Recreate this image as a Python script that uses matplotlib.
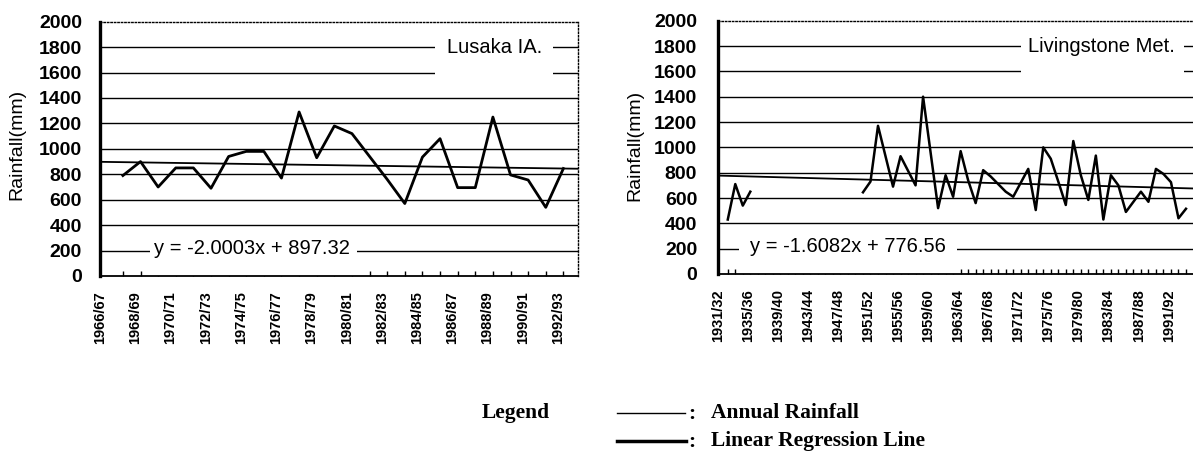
import numpy as np
import matplotlib
matplotlib.use('Agg')  # no window, just write the png
import matplotlib.pyplot as plt
from matplotlib.patches import Rectangle
from matplotlib.lines import Line2D

# Lusaka I.A. annual rainfall (mm), one value per season from 1966/67
lusaka_rain = [790, 900, 700, 850, 850, 690, 940, 980, 980, 770,
               1290, 930, 1180, 1120, 940, 760, 570, 935, 1080, 695,
               695, 1250, 795, 755, 540, 845]
lusaka_trend = (-2.0003, 897.32)
lusaka_labels = ['1966/67', '1968/69', '1970/71', '1972/73', '1974/75',
                 '1976/77', '1978/79', '1980/81', '1982/83', '1984/85',
                 '1986/87', '1988/89', '1990/91', '1992/93']

# Livingstone Met. annual rainfall (mm): 1931/32-1934/35, then 1949/50-1992/93
livingstone_rain_early = [430, 710, 540, 650]
livingstone_rain_late = [645, 730, 1170, 930, 690, 930, 815, 700, 1400, 960,
                         520, 780, 610, 970, 740, 560, 820, 770, 710, 650,
                         610, 720, 830, 505, 1000, 910, 730, 545, 1050, 780,
                         585, 935, 430, 780, 700, 490, 570, 650, 570, 830,
                         790, 725, 440, 515]
livingstone_late_offset = 18  # seasons between 1931/32 and 1949/50
livingstone_trend = (-1.6082, 776.56)
livingstone_labels = ['1931/32', '1935/36', '1939/40', '1943/44', '1947/48',
                      '1951/52', '1955/56', '1959/60', '1963/64', '1967/68',
                      '1971/72', '1975/76', '1979/80', '1983/84', '1987/88',
                      '1991/92']

Y_TICKS = np.arange(0, 2001, 200)
FIG_W, FIG_H = 1193.0, 466.0

plt.rcParams['font.family'] = ['Liberation Sans', 'DejaVu Sans']

fig = plt.figure(figsize=(FIG_W / 100, FIG_H / 100), dpi=100)


def axes_px(left, top, right, bottom):
    return fig.add_axes([left / FIG_W, 1 - bottom / FIG_H,
                         (right - left) / FIG_W, (bottom - top) / FIG_H])


def style_axes(ax, xlim, label_step, labels, n_points, ypad, dotted_right):
    ax.set_xlim(*xlim)
    ax.set_ylim(0, 2000)
    ax.set_yticks(Y_TICKS)
    ax.tick_params(axis='y', length=0, pad=ypad, labelsize=14)
    # labels sit a bit left of their season in the original print
    ax.set_xticks(np.arange(len(labels)) * label_step - 1.3)
    ax.set_xticklabels(labels, rotation=90, fontsize=10.5, fontweight='bold')
    ax.tick_params(axis='x', which='major', length=0, pad=11)
    ax.set_xticks(np.arange(n_points), minor=True)
    ax.tick_params(axis='x', which='minor', direction='in', length=3.5,
                   width=1, color='black')
    for lab in ax.get_yticklabels():
        lab.set_fontweight('bold')
    for y in Y_TICKS[1:-1]:
        ax.axhline(y, color='black', lw=1.0, zorder=1)
    ax.spines['left'].set_linewidth(2.4)
    ax.spines['bottom'].set_linewidth(1.3)
    ax.spines['top'].set_linewidth(1.0)
    ax.spines['top'].set_linestyle((0, (1, 1.5)))
    if dotted_right:
        ax.spines['right'].set_linewidth(1.0)
        ax.spines['right'].set_linestyle((0, (1, 1.5)))
    else:
        ax.spines['right'].set_visible(False)
    ax.set_ylabel('Rainfall(mm)', fontsize=14)


def white_box(ax, x0, x1, y0, y1):
    ax.add_patch(Rectangle((x0, y0), x1 - x0, y1 - y0, facecolor='white',
                           edgecolor='none', zorder=2.2))


def trend_line(ax, coef):
    xs = np.array(ax.get_xlim())
    ax.plot(xs, coef[0] * (xs + 1) + coef[1], color='black', lw=1.3, zorder=3)


# Lusaka
ax1 = axes_px(100, 21.7, 578, 276)
style_axes(ax1, (-0.88, 25.83), 2, lusaka_labels, len(lusaka_rain), 13, True)
ax1.yaxis.set_label_coords(-0.157, 0.516)
ax1.plot(np.arange(len(lusaka_rain)), lusaka_rain, color='black', lw=2.0,
         zorder=4)
trend_line(ax1, lusaka_trend)
white_box(ax1, 17.73, 24.43, 1500, 1920)
ax1.text(21.08, 1795, 'Lusaka IA.', fontsize=14.5, ha='center', va='center',
         zorder=5)
white_box(ax1, 1.53, 13.26, 0, 320)
ax1.text(7.33, 215, 'y = -2.0003x + 897.32', fontsize=14.5, ha='center',
         va='center', zorder=5)

# Livingstone
n_liv = livingstone_late_offset + len(livingstone_rain_late)
ax2 = axes_px(718, 20.7, 1195, 274)
style_axes(ax2, (-0.70, 62.2), 4, livingstone_labels, n_liv, 15, False)
ax2.yaxis.set_label_coords(-0.156, 0.506)
ax2.plot(np.arange(len(livingstone_rain_early)), livingstone_rain_early,
         color='black', lw=1.8, zorder=4)
ax2.plot(livingstone_late_offset + np.arange(len(livingstone_rain_late)),
         livingstone_rain_late, color='black', lw=1.8, zorder=4)
trend_line(ax2, livingstone_trend)
white_box(ax2, 39.05, 60.77, 1500, 1920)
ax2.text(49.7, 1800, 'Livingstone Met.', fontsize=14.5, ha='center',
         va='center', zorder=5)
white_box(ax2, 1.54, 30.5, 0, 320)
ax2.text(15.95, 215, 'y = -1.6082x + 776.56', fontsize=14.5, ha='center',
         va='center', zorder=5)

# legend drawn by hand under the charts, as in the report
serif = dict(family=['Liberation Serif', 'DejaVu Serif'], fontsize=15.5,
             fontweight='bold', va='center')
fig.text(482 / FIG_W, 1 - 413 / FIG_H, 'Legend', **serif)
fig.add_artist(Line2D([617 / FIG_W, 685 / FIG_W], [1 - 413 / FIG_H] * 2,
                      color='black', lw=1.0, transform=fig.transFigure))
fig.add_artist(Line2D([617 / FIG_W, 686 / FIG_W], [1 - 441 / FIG_H] * 2,
                      color='black', lw=2.5, transform=fig.transFigure))
fig.text(688 / FIG_W, 1 - 414 / FIG_H, ':', **serif)
fig.text(688 / FIG_W, 1 - 442 / FIG_H, ':', **serif)
fig.text(711 / FIG_W, 1 - 413 / FIG_H, 'Annual Rainfall', **serif)
fig.text(711 / FIG_W, 1 - 441 / FIG_H, 'Linear Regression Line', **serif)

fig.savefig('out.png', dpi=100)
